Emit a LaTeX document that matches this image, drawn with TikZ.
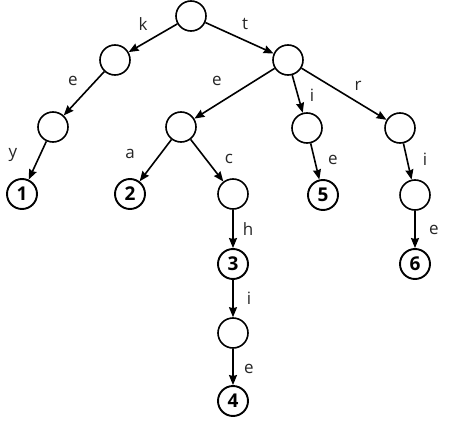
\documentclass[tikz,border=0pt]{standalone}
\usepackage{fontspec}
\setmainfont{Open Sans}
\usetikzlibrary{arrows.meta}
\begin{document}
\begin{tikzpicture}[x=1pt,y=-1pt,
  st/.style={circle,draw,line width=1.6pt,minimum size=30pt,inner sep=0pt},
  leaf/.style={st,line width=1.9pt,font=\fontsize{19}{19}\selectfont\bfseries},
  edge/.style={line width=1.6pt,-{Stealth[length=10pt,width=8pt,inset=1pt]}},
  lab/.style={font=\fontsize{17}{17}\selectfont,text=black!85,inner sep=0pt}]
\useasboundingbox (0,0) rectangle (450,423);
\node[st] (r) at (191,16) {};
\node[st] (k) at (115,60) {};
\node[st] (ke) at (53,127) {};
\node[leaf] (n1) at (22,194) {1};
\node[st] (t) at (288,60) {};
\node[st] (te) at (181,127) {};
\node[leaf] (n2) at (130,194) {2};
\node[st] (c) at (233,194) {};
\node[leaf] (n3) at (233,264) {3};
\node[st] (hi) at (233,333) {};
\node[leaf] (n4) at (233,401) {4};
\node[st] (ti) at (307,128) {};
\node[leaf] (n5) at (323,195) {5};
\node[st] (tr) at (400,128) {};
\node[st] (tri) at (415,195) {};
\node[leaf] (n6) at (415,264) {6};
\draw[edge] (r) -- (k);
\draw[edge] (k) -- (ke);
\draw[edge] (ke) -- (n1);
\draw[edge] (r) -- (t);
\draw[edge] (t) -- (te);
\draw[edge] (te) -- (n2);
\draw[edge] (te) -- (c);
\draw[edge] (c) -- (n3);
\draw[edge] (n3) -- (hi);
\draw[edge] (hi) -- (n4);
\draw[edge] (t) -- (ti);
\draw[edge] (ti) -- (n5);
\draw[edge] (t) -- (tr);
\draw[edge] (tr) -- (tri);
\draw[edge] (tri) -- (n6);
\node[lab] (lk) at (143,24) {k};
\node[lab] (lt) at (245,24) {t};
\node[lab] (le1) at (73,81) {e};
\node[lab] (ly) at (13,155) {y};
\node[lab] (le2) at (217,81) {e};
\node[lab] (la) at (130,154) {a};
\node[lab] (lc) at (229,159) {c};
\node[lab] (lh) at (248,229) {h};
\node[lab] (li1) at (249,298) {i};
\node[lab] (le3) at (249,369) {e};
\node[lab] (li2) at (312,95) {i};
\node[lab] (le4) at (333,160) {e};
\node[lab] (lr) at (358,86) {r};
\node[lab] (li3) at (425,159) {i};
\node[lab] (le5) at (434,230) {e};
\end{tikzpicture}
\end{document}
